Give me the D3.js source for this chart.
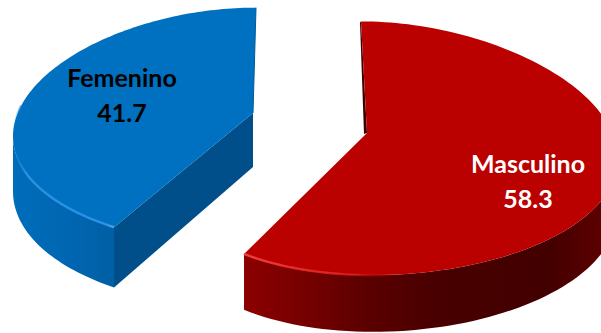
<!DOCTYPE html>
<html>
<head>
<meta charset="utf-8">
<script src="https://cdn.jsdelivr.net/npm/d3@7"></script>
<style>
html,body{margin:0;padding:0;background:#fff}
svg{display:block}
text{font-family:Lato,"Open Sans",sans-serif;font-weight:700;text-anchor:middle}
</style>
</head>
<body>
<script>
// Distribution by sex, percent
const categories = ["Masculino", "Femenino"];
const values = [58.3, 41.7];

// Each exploded slice has its own projection of the tilted disc
const sliceStyles = [
  {cx: 367, cy: 133, rx: 225, ry: 125, lean: -6, skew: 0.09, depth: 50, top: "#bb0000", cut: "#4a0000",
   labelX: 528, labelY: 173, labelColor: "#ffffff",
   wall: [[0, "#8c0000"], [.16, "#780000"], [.35, "#5a0000"], [.55, "#480000"], [.85, "#420000"], [1, "#5c0000"]],
   bevel: [[0, "#f04040", 1], [.3, "#e02020", .9], [.55, "#c00000", 0], [1, "#c00000", 0]],
   wallX: [243, 601]},
  {cx: 253, cy: 113, rx: 222, ry: 118, lean: 3, skew: -0.06, depth: 54, top: "#0070c0", cut: "#004f8a",
   labelX: 122, labelY: 87, labelColor: "#000000",
   wall: [[0, "#006dba"], [.6, "#0065b0"], [1, "#005fa4"]],
   bevel: [[0, "#0a7ace", 0], [.12, "#2a90e4", 1], [.9, "#2a90e4", 1], [1, "#4aa4ee", 1]],
   wallX: [14, 117]}
];

const W = 601, H = 333, depthPerspective = 0.12, widthPerspective = 0.19;

const svg = d3.select("body").append("svg").attr("width", W).attr("height", H);
const defs = svg.append("defs");

const pie = d3.pie().sort(null).startAngle(0).endAngle(2 * Math.PI);
const arcs = pie(values);

// Project an angle (clockwise from 12 o'clock) onto the disc, optionally on its lower face
function project(style, angle, below = 0) {
  const u = Math.sin(angle), v = Math.cos(angle);
  const sx = 1 / (1 + widthPerspective * v);
  const sy = 1 / (1 + depthPerspective * v);
  return [
    style.cx + style.rx * u * (1 + style.skew * u) * sx + style.lean * v,
    style.cy + sy * (below - style.ry * v)
  ];
}

const line = d3.line();
const sweep = (a0, a1) => d3.range(0, 121).map(i => a0 + (a1 - a0) * i / 120);

function linearGradient(id, x0, x1, stops) {
  const g = defs.append("linearGradient").attr("id", id)
    .attr("gradientUnits", "userSpaceOnUse")
    .attr("x1", x0).attr("x2", x1).attr("y1", 0).attr("y2", 0);
  stops.forEach(([o, c, a]) => g.append("stop").attr("offset", o).attr("stop-color", c)
    .attr("stop-opacity", a === undefined ? 1 : a));
}

arcs.forEach((d, i) => {
  const st = sliceStyles[i];
  const g = svg.append("g").attr("class", "slice");
  const angles = sweep(d.startAngle, d.endAngle);
  const topArc = angles.map(a => project(st, a));

  linearGradient("wall" + i, st.wallX[0], st.wallX[1], st.wall);

  // Outer curved wall: only the stretch between the silhouette extreme and the front cut
  const extreme = i === 0
    ? d3.greatestIndex(angles, a => project(st, a)[0])
    : d3.leastIndex(angles, a => project(st, a)[0]);
  const visible = i === 0 ? angles.slice(extreme) : angles.slice(0, extreme + 1);
  const wallTop = visible.map(a => project(st, a));
  const wallLow = visible.map(a => project(st, a, st.depth));
  g.append("path")
    .attr("d", line(wallTop.concat(wallLow.slice().reverse())) + "Z")
    .attr("fill", `url(#wall${i})`);

  const centre = [st.cx, st.cy];
  const centreLow = [st.cx, st.cy + st.depth];
  if (i === 1) {
    // Straight cut face turned towards the viewer
    g.append("path")
      .attr("d", line([project(st, d.startAngle), centre, centreLow, project(st, d.startAngle, st.depth)]) + "Z")
      .attr("fill", st.cut);
  } else {
    // Thin dark sliver along the back cut
    const tip = project(st, d.startAngle);
    g.append("path")
      .attr("d", line([tip, centre, [st.cx - 3, st.cy + 1], [tip[0] - 1, tip[1] + 1]]) + "Z")
      .attr("fill", "#3a0000");
  }

  // Top face
  g.append("path")
    .attr("d", line([centre].concat(topArc)) + "Z")
    .attr("fill", st.top);

  // Shaded fringe along the back cut of the blue slice
  if (i === 1) {
    g.append("path")
      .attr("d", line([project(st, d.endAngle), centre]))
      .attr("fill", "none")
      .attr("stroke", "#005a9c")
      .attr("stroke-width", 1);
  }

  // Soft light catching the front rim
  const rim = i === 0
    ? sweep(d.endAngle, Math.PI * 0.98).map(a => project(st, a))
    : sweep(d.startAngle, Math.PI * 1.52).map(a => project(st, a));
  linearGradient("bevel" + i, i === 0 ? 243 : 14, i === 0 ? 560 : 115, st.bevel);
  g.append("path")
    .attr("d", line(rim))
    .attr("fill", "none")
    .attr("stroke", `url(#bevel${i})`)
    .attr("stroke-width", 2.4);

  // Category and value
  const label = g.append("text").attr("fill", st.labelColor).attr("font-size", 25);
  label.append("tspan").attr("x", st.labelX).attr("y", st.labelY).text(categories[i]);
  label.append("tspan").attr("x", st.labelX).attr("y", st.labelY + 35).text(d.value);
});
</script>
</body>
</html>
